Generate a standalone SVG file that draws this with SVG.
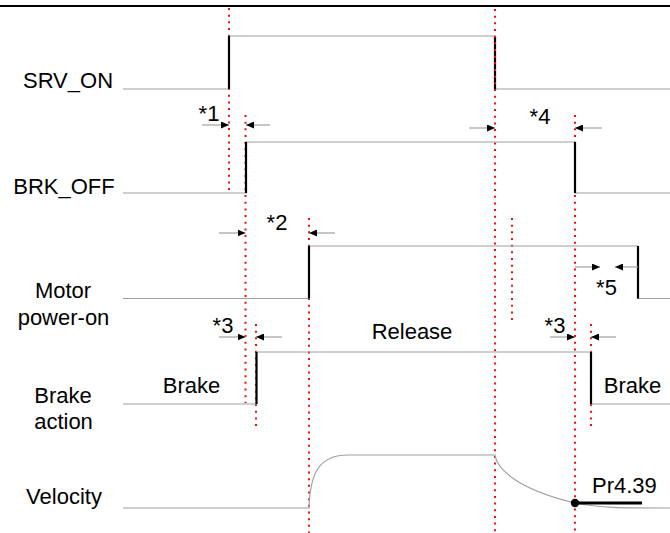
<svg xmlns="http://www.w3.org/2000/svg" width="670" height="533" viewBox="0 0 670 533">
<defs>
<style>
text{font-family:"Liberation Sans",Arial,sans-serif;font-size:22px;fill:#000}
.lbl{text-anchor:middle}
.sig{fill:none;stroke:#a0a0a0;stroke-width:1.2}
.edge{stroke:#000;stroke-width:2.2;fill:none}
.dim{stroke:#a0a0a0;stroke-width:1.2;fill:none;marker-end:url(#ah)}
.red{stroke:#ee1111;stroke-width:2;stroke-dasharray:2 4.67;fill:none}
</style>
<marker id="ah" viewBox="0 0 8 7" refX="8" refY="3.5" markerWidth="8" markerHeight="7" markerUnits="userSpaceOnUse" orient="auto">
<path d="M0,0 L8,3.5 L0,7 Z" fill="#000"/>
</marker>
</defs>
<rect width="670" height="533" fill="#fff"/>
<line x1="0" y1="6" x2="670" y2="6" stroke="#000" stroke-width="2.2"/>

<g id="labels">
<text class="lbl" x="68" y="88">SRV_ON</text>
<text class="lbl" x="64" y="194">BRK_OFF</text>
<text class="lbl" x="63" y="298">Motor</text>
<text class="lbl" x="63.5" y="325">power-on</text>
<text class="lbl" x="63" y="403">Brake</text>
<text class="lbl" x="63.5" y="429">action</text>
<text class="lbl" x="64" y="504">Velocity</text>
</g>

<g id="guides">
<line class="red" x1="229" y1="8" x2="229" y2="193"/>
<line class="red" x1="245.5" y1="115" x2="245.5" y2="403"/>
<line class="red" x1="256" y1="324" x2="256" y2="427"/>
<line class="red" x1="309" y1="218" x2="309" y2="533"/>
<line class="red" x1="512" y1="218" x2="512" y2="321"/>
<line class="red" x1="575" y1="115" x2="575" y2="533"/>
<line class="red" x1="591" y1="324" x2="591" y2="427"/>
</g>

<g id="srv_on">
<polyline class="sig" points="123,89 229,89 229,36 495,36 495,89 670,89"/>
<line class="edge" x1="229" y1="36" x2="229" y2="89"/>
<line class="edge" x1="495" y1="36" x2="495" y2="89"/>
</g>

<g id="guide_495">
<line class="red" x1="495" y1="9" x2="495" y2="533"/>
</g>

<g id="brk_off">
<polyline class="sig" points="123,193 246,193 246,142 575,142 575,193 670,193"/>
<line class="edge" x1="246" y1="142" x2="246" y2="193"/>
<line class="edge" x1="575" y1="142" x2="575" y2="193"/>
</g>

<g id="motor">
<polyline class="sig" points="123,298.5 309,298.5 309,246 638,246 638,298.5 670,298.5"/>
<line class="edge" x1="309" y1="246" x2="309" y2="298.5"/>
<line class="edge" x1="638" y1="246" x2="638" y2="298.5"/>
</g>

<g id="brake">
<polyline class="sig" points="123,404 256.5,404 256.5,352 591,352 591,404 670,404"/>
<line class="edge" x1="256.5" y1="352" x2="256.5" y2="404"/>
<line class="edge" x1="591" y1="352" x2="591" y2="404"/>
<text class="lbl" x="191.5" y="393">Brake</text>
<text class="lbl" x="412" y="339">Release</text>
<text class="lbl" x="632.5" y="393">Brake</text>
</g>

<g id="velocity">
<path class="sig" d="M123,508 L309,508 C310,472 320,455 348,455 L495,455 C497,470 520,490 575,503 C600,508 620,508 670,508"/>
</g>

<g id="pr439">
<line x1="575" y1="503" x2="642" y2="503" stroke="#000" stroke-width="3"/>
<circle cx="575" cy="503" r="4.2" fill="#000"/>
<text x="592" y="493">Pr4.39</text>
</g>

<g id="connectors">
<line class="dim" x1="202" y1="125" x2="229" y2="125"/>
<line class="dim" x1="270" y1="125" x2="246" y2="125"/>
<text class="lbl" x="209" y="121">*1</text>

<line class="dim" x1="469" y1="128" x2="495" y2="128"/>
<line class="dim" x1="602" y1="128" x2="575" y2="128"/>
<text class="lbl" x="540" y="124">*4</text>

<line class="dim" x1="219" y1="233" x2="245.5" y2="233"/>
<line class="dim" x1="335" y1="233" x2="309" y2="233"/>
<text class="lbl" x="277" y="230">*2</text>

<line class="dim" x1="575" y1="267" x2="600" y2="267"/>
<line class="dim" x1="638" y1="267" x2="615" y2="267"/>
<text class="lbl" x="606.5" y="295">*5</text>

<line class="dim" x1="219" y1="337" x2="245.5" y2="337"/>
<line class="dim" x1="282" y1="337" x2="256" y2="337"/>
<text class="lbl" x="223" y="333">*3</text>

<line class="dim" x1="550" y1="337" x2="575" y2="337"/>
<line class="dim" x1="616" y1="337" x2="591" y2="337"/>
<text class="lbl" x="555" y="333">*3</text>
</g>
</svg>
